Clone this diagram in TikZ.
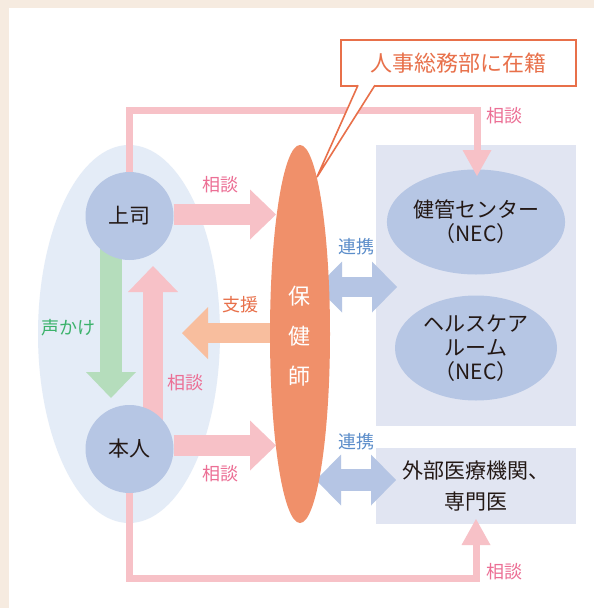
\documentclass[tikz,border=0pt]{standalone}
\usepackage{fontspec}
\setmainfont{Noto Sans CJK JP}
\usetikzlibrary{arrows.meta,shapes.geometric}
\definecolor{bgbeige}{HTML}{F6EBE0}
\definecolor{groupblue}{HTML}{E4ECF7}
\definecolor{nodeblue}{HTML}{B6C6E4}
\definecolor{boxlav}{HTML}{E1E5F2}
\definecolor{pinkarrow}{HTML}{F7C1C7}
\definecolor{pinktext}{HTML}{EC6F95}
\definecolor{greenarrow}{HTML}{B5DDBC}
\definecolor{greentext}{HTML}{3BB26B}
\definecolor{orangearrow}{HTML}{F8BE9E}
\definecolor{orangetext}{HTML}{E8704A}
\definecolor{hokenorange}{HTML}{F0906A}
\definecolor{bluearrow}{HTML}{B5C5E4}
\definecolor{bluetext}{HTML}{5B8DCA}
\definecolor{inktext}{HTML}{231815}
\tikzset{
  person/.style={circle, fill=nodeblue, minimum size=88pt, inner sep=0pt, text=inktext, font=\fontsize{21}{24}\selectfont},
  orgell/.style={ellipse, fill=nodeblue, minimum width=162pt, minimum height=105pt, inner sep=0pt, text=inktext, align=center, font=\fontsize{21}{24}\selectfont},
  fatarrow/.style={draw=#1, line width=21pt, -{Triangle[width=50pt,length=26pt,line width=0pt]}},
  fatdouble/.style={draw=#1, line width=21pt, {Triangle[width=51pt,length=25pt,line width=0pt]}-{Triangle[width=51pt,length=25pt,line width=0pt]}},
  thinpath/.style={draw=pinkarrow, line width=7pt, -{Triangle[width=29pt,length=26pt,line width=0pt]}},
  lbl/.style={text=#1, inner sep=0pt, font=\fontsize{18}{20}\selectfont},
}
\begin{document}
\begin{tikzpicture}[x=1pt,y=-1pt]
\useasboundingbox (0,0) rectangle (594,608);
\fill[bgbeige] (0,0) rectangle (594,608);
\fill[white] (9,8) rectangle (594,608);

% backgrounds
\node[ellipse, fill=groupblue, minimum width=182pt, minimum height=378pt, inner sep=0pt] (group) at (129,334) {};
\node[fill=boxlav, minimum width=200pt, minimum height=281pt, inner sep=0pt] (box1) at (476,285.5) {};
\node[fill=boxlav, minimum width=200pt, minimum height=76pt, inner sep=0pt, text=inktext, align=center, font=\fontsize{21}{31}\selectfont] (box2) at (476,486) {外部医療機関、\\専門医};

% organisation ellipses
\node[orgell] (kenkan) at (476,222) {健管センター\\（NEC）};
\node[orgell] (health) at (476,348) {ヘルスケア\\ルーム\\（NEC）};

% outer pink paths
\coordinate (topY) at (0,110);
\coordinate (botY) at (0,578);
\coordinate (joshiTop) at (129.5,200);
\coordinate (honninBot) at (129.5,470);
\coordinate (kenkanTip) at (477,176);
\coordinate (box2Tip) at (476,519);
\draw[thinpath] (joshiTop) |- (kenkanTip |- topY) -- (kenkanTip);
\draw[thinpath] (honninBot) |- (box2Tip |- botY) -- (box2Tip);

% vertical arrows between people
\coordinate (greenStart) at (111,240);
\coordinate (greenTip) at (111,398);
\coordinate (pinkStart) at (153,430);
\coordinate (pinkTip) at (153,266);
\draw[fatarrow=greenarrow, line width=22pt] (greenStart) -- (greenTip);
\draw[fatarrow=pinkarrow, line width=20pt] (pinkStart) -- (pinkTip);

% people
\node[person] (joshi) at (129.5,216) {上司};
\node[person] (honnin) at (129.5,449) {本人};

% horizontal arrows to the nurse
\coordinate (t1) at (276,214.5);
\coordinate (t2) at (276,445.5);
\draw[fatarrow=pinkarrow] (joshi.east |- t1) -- (t1);
\draw[fatarrow=pinkarrow] (honnin.east |- t2) -- (t2);

% support arrow
\coordinate (supStart) at (290,333);
\coordinate (supTip) at (182,333);
\draw[fatarrow=orangearrow, line width=20pt, -{Triangle[width=52pt,length=26pt,line width=0pt]}] (supStart) -- (supTip);

% cooperation arrows
\coordinate (c1a) at (317,287);
\coordinate (c1b) at (397,287);
\coordinate (c2a) at (316,480);
\coordinate (c2b) at (396,480);
\draw[fatdouble=bluearrow, line width=20pt] (c1a) -- (c1b);
\draw[fatdouble=bluearrow, line width=22pt] (c2a) -- (c2b);

% nurse
\node[ellipse, fill=hokenorange, minimum width=60pt, minimum height=378pt, inner sep=0pt] (hoken) at (300,334) {};
\node[text=white, font=\fontsize{22}{40}\selectfont, align=center, inner sep=0pt] (hokenlbl) at (299,336) {保\\健\\師};

% callout
\node[draw=orangetext, line width=1.6pt, fill=white, minimum width=235pt, minimum height=46pt, inner sep=0pt, text=orangetext, font=\fontsize{22}{26}\selectfont] (callout) at (458.5,63) {人事総務部に在籍};
\coordinate (tailA) at (358,86);
\coordinate (tailB) at (375,86);
\coordinate (tailTip) at (317,177);
\fill[white] ([yshift=1.5pt]tailA) -- (tailTip) -- ([yshift=1.5pt]tailB) -- cycle;
\draw[orangetext, line width=1.6pt, line join=miter] ([yshift=0.8pt]tailA) -- (tailTip) -- ([yshift=0.8pt]tailB);

% labels
\node[lbl=pinktext] (lb1) at (220,185) {相談};
\node[lbl=pinktext] (lb2) at (185,383) {相談};
\node[lbl=pinktext] (lb3) at (220,474) {相談};
\node[lbl=pinktext] (lb4) at (504,116) {相談};
\node[lbl=pinktext] (lb5) at (504,572) {相談};
\node[lbl=greentext] (lb6) at (68,328) {声かけ};
\node[lbl=orangetext] (lb7) at (240,305) {支援};
\node[lbl=bluetext] (lb8) at (356,247) {連携};
\node[lbl=bluetext] (lb9) at (356,442) {連携};
\end{tikzpicture}
\end{document}
